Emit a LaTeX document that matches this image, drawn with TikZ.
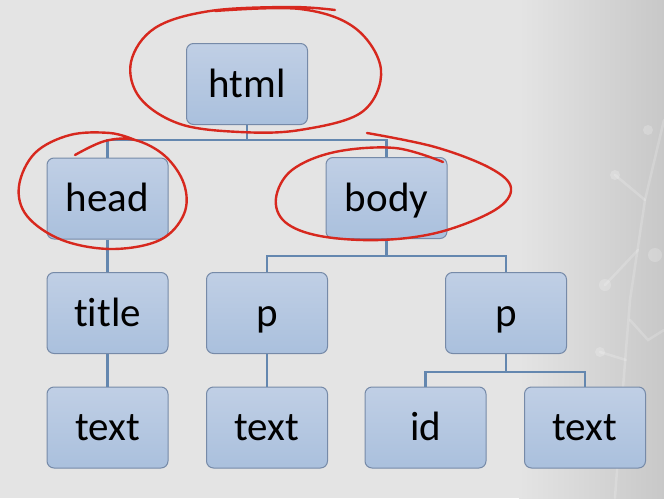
\documentclass[tikz,border=0pt]{standalone}
\usepackage{fontspec}
\setmainfont{Carlito}[Ligatures=NoCommon]
\definecolor{bgL}{RGB}{228,228,228}
\definecolor{bgR}{RGB}{200,200,200}
\definecolor{boxTop}{RGB}{192,207,229}
\definecolor{boxBot}{RGB}{170,192,221}
\definecolor{boxLine}{RGB}{118,138,168}
\definecolor{conn}{RGB}{100,135,175}
\definecolor{pen}{RGB}{215,40,30}
\tikzset{
  treebox/.style={draw=boxLine, line width=1pt, rounded corners=7pt,
    top color=boxTop, bottom color=boxBot, minimum width=121pt, minimum height=81pt,
    inner sep=0pt, text height=30pt, text depth=4pt,
    font=\fontsize{41}{48}\selectfont, text=black},
  link/.style={draw=conn, line width=2.2pt},
  penline/.style={draw=pen, line width=2.4pt, line cap=round, line join=round},
  deco/.style={draw=white, opacity=0.18, line width=2.5pt, line cap=round},
  decodot/.style={fill=white, opacity=0.2}
}
\begin{document}
\begin{tikzpicture}[x=1pt,y=-1pt]
\useasboundingbox (0,0) rectangle (664,498);
\fill[bgL] (0,0) rectangle (664,498);
\shade[left color=bgL, right color=bgR] (519,0) rectangle (664,498);
% faint decoration at right
\draw[deco] (664,120) -- (645,200) -- (630,300) -- (622,400) -- (615,498);
\draw[deco] (645,200) -- (615,175);
\draw[deco] (638,250) -- (605,285);
\draw[deco] (630,320) -- (648,340) -- (664,330);
\draw[deco] (626,360) -- (600,352);
\fill[decodot] (615,175) circle (5pt);
\fill[decodot] (605,285) circle (6pt);
\fill[decodot] (648,130) circle (5pt);
\fill[decodot] (600,352) circle (5pt);
\fill[decodot] (655,255) circle (7pt);
\fill[decodot] (630,420) circle (6pt);

\node[treebox] (html)  at (247,84)    {html};
\node[treebox] (head)  at (107.5,198.5) {head};
\node[treebox] (body)  at (386.5,198) {body};
\node[treebox] (title) at (107.5,313) {title};
\node[treebox] (pa)    at (267,313)   {p};
\node[treebox] (pb)    at (506,313)   {p};
\node[treebox] (texta) at (107.5,427.5) {text};
\node[treebox] (textb) at (267,427.5) {text};
\node[treebox] (id)    at (425.5,427.5) {id};
\node[treebox] (textc) at (585,427.5) {text};

\draw[link] (html.south) -- ++(0,15) -| (head.north);
\draw[link] (html.south) -- ++(0,15) -| (body.north);
\draw[link] (head.south) -- (title.north);
\draw[link] (title.south) -- (texta.north);
\draw[link] (body.south) -- ++(0,17) -| (pa.north);
\draw[link] (body.south) -- ++(0,17) -| (pb.north);
\draw[link] (pa.south) -- (textb.north);
\draw[link] (pb.south) -- ++(0,18) -| (id.north);
\draw[link] (pb.south) -- ++(0,18) -| (textc.north);

% hand-drawn red loops
\draw[penline] plot[smooth, tension=0.6] coordinates {
  (215,11) (300,9) (355,28) (381,70) (362,112) (300,130) (240,132) (180,124) (140,98) (131,62) (155,28) (210,11) (290,7) (335,10)};
\draw[penline] plot[smooth, tension=0.6] coordinates {
  (75,155) (105,141) (135,140) (165,156) (184,184) (184,214) (160,240) (112,249) (62,240) (27,216) (19,186) (35,153) (70,135) (110,133) (135,140)};
\draw[penline] plot[smooth, tension=0.6] coordinates {
  (367,133) (435,147) (490,168) (511,188) (495,210) (440,232) (380,240) (320,236) (285,222) (276,198) (292,170) (335,152) (395,148) (443,162)};
\end{tikzpicture}
\end{document}
